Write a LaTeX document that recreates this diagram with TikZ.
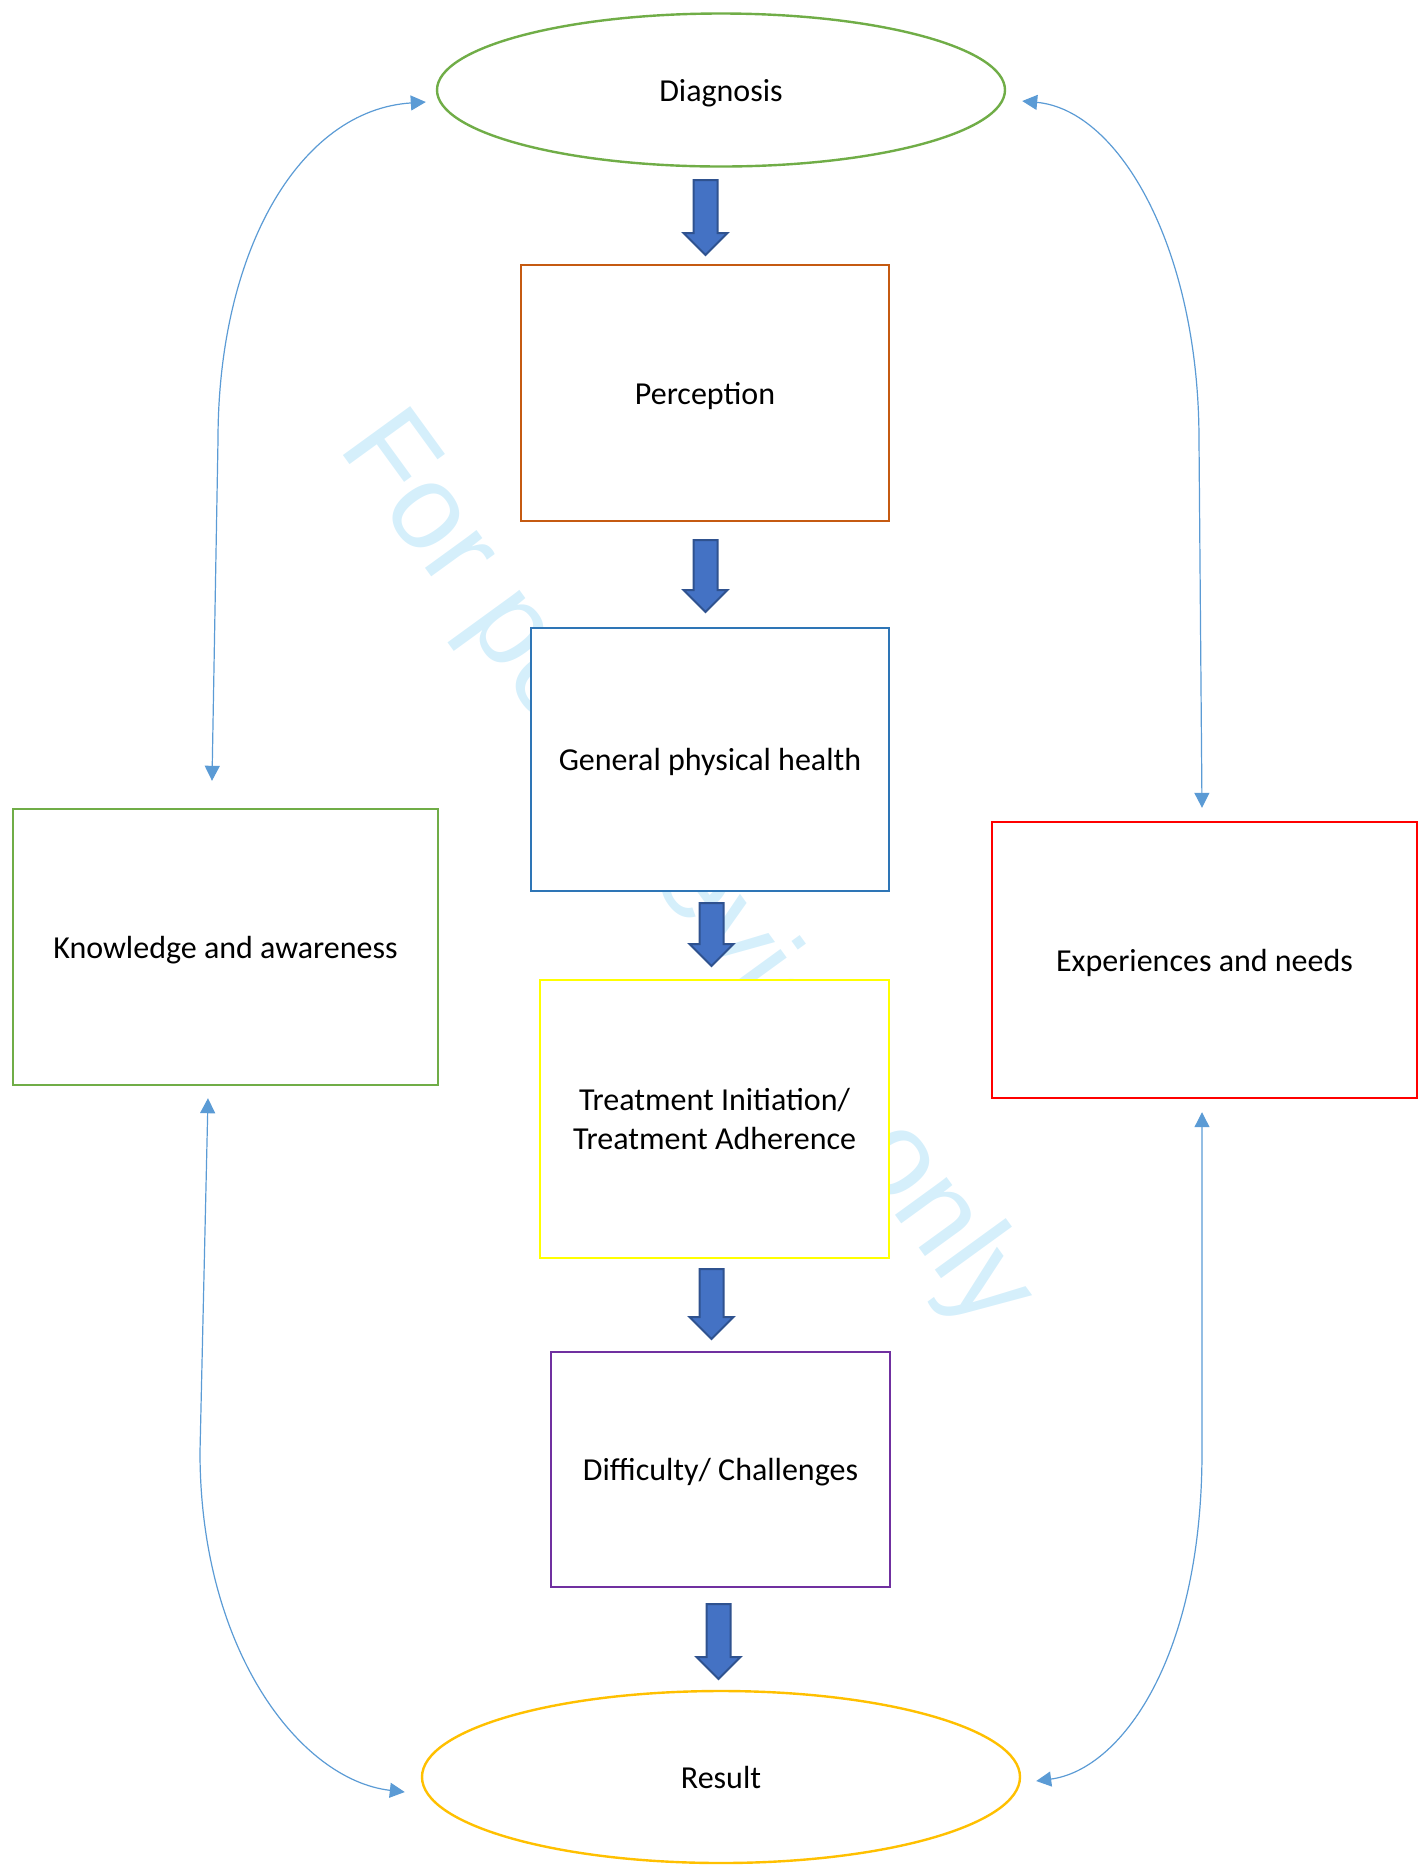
\documentclass[tikz,border=0pt]{standalone}
\usepackage{fontspec}
\setmainfont{Carlito}
\newfontfamily\wmfont{Liberation Sans}
\usetikzlibrary{
  arrows.meta,
  calc,
  shapes.geometric,
  shapes.arrows
}

\definecolor{diaggreen}{RGB}{112,173,71}
\definecolor{percorange}{RGB}{197,90,17}
\definecolor{healthblue}{RGB}{46,117,182}
\definecolor{treatyellow}{RGB}{255,255,0}
\definecolor{diffpurple}{RGB}{112,48,160}
\definecolor{resultgold}{RGB}{255,192,0}
\definecolor{expred}{RGB}{255,0,0}
\definecolor{linkblue}{RGB}{91,155,213}
\definecolor{fatfill}{RGB}{68,114,196}
\definecolor{fatline}{RGB}{47,82,143}
\definecolor{wmblue}{RGB}{213,239,251}

\tikzset{
  box/.style={draw, fill=white, line width=1.2pt, inner sep=0pt, align=center,
    text depth=0pt, font=\fontsize{16}{19.5}\selectfont},
  oval/.style={box, ellipse},
  fatarrow/.style={single arrow, draw=fatline, fill=fatfill, line width=1pt,
    rotate=-90, inner xsep=0pt, inner ysep=5.5pt, minimum width=21.5pt,
    single arrow head extend=5pt},
  link/.style={draw=linkblue, line width=0.6pt, >={Triangle[length=7.5pt,width=7.5pt]}, <->}
}

\begin{document}
\begin{tikzpicture}[x=0.5pt,y=-0.5pt]
  \useasboundingbox (0,0) rectangle (1423,1865);
  \node[font=\wmfont\fontsize{60.5}{60.5}\selectfont, text=wmblue, anchor=base west,
    rotate=-54, inner sep=0pt] (wm) at (337,447) {For peer review only};

  \node[oval, draw=diaggreen, minimum width=284pt, minimum height=76.5pt] (diag) at (721,90) {Diagnosis};
  \node[box, draw=percorange, minimum width=184pt, minimum height=128pt] (perc) at (705,393) {Perception};
  \node[box, draw=healthblue, minimum width=179pt, minimum height=131.5pt] (health) at (710,759.5) {General physical health};
  \node[box, draw=treatyellow, minimum width=174.5pt, minimum height=139pt] (treat) at (714.5,1119) {Treatment Initiation/\\Treatment Adherence};
  \node[box, draw=diffpurple, minimum width=169.5pt, minimum height=117.5pt] (diff) at (720.5,1469.5) {Difficulty/ Challenges};
  \node[oval, draw=resultgold, minimum width=299pt, minimum height=86pt] (result) at (721,1777) {Result};
  \node[box, draw=diaggreen, minimum width=212.5pt, minimum height=138pt] (know) at (225.5,947) {Knowledge and awareness};
  \node[box, draw=expred, minimum width=212.5pt, minimum height=138pt] (exper) at (1204.5,960) {Experiences and needs};

  \node[fatarrow, minimum height=37.5pt] (a1) at (705.5,211.5) {};
  \node[fatarrow, minimum height=36pt] (a2) at (705.5,570) {};
  \node[fatarrow, minimum height=31.5pt] (a3) at (711.5,928.5) {};
  \node[fatarrow, minimum height=35pt] (a4) at (711.5,1298) {};
  \node[fatarrow, minimum height=37.5pt] (a5) at (718.5,1635.5) {};

  \draw[link] ([shift={(-13.5,-27)}]know.north) -- (218,440)
    .. controls (218,250) and (300,110) .. ([shift={(-10,12)}]diag.west);
  \draw[link] ([shift={(-2.5,-13)}]exper.north) -- (1199,440)
    .. controls (1199,250) and (1120,110) .. ([shift={(16,11)}]diag.east);
  \draw[link] ([shift={(-17.5,12)}]know.south) -- (200,1452)
    .. controls (200,1650) and (300,1780) .. ([shift={(-16,15)}]result.west);
  \draw[link] ([shift={(-2.5,13)}]exper.south) -- (1202,1452)
    .. controls (1202,1660) and (1120,1770) .. ([shift={(15,4)}]result.east);
\end{tikzpicture}
\end{document}
